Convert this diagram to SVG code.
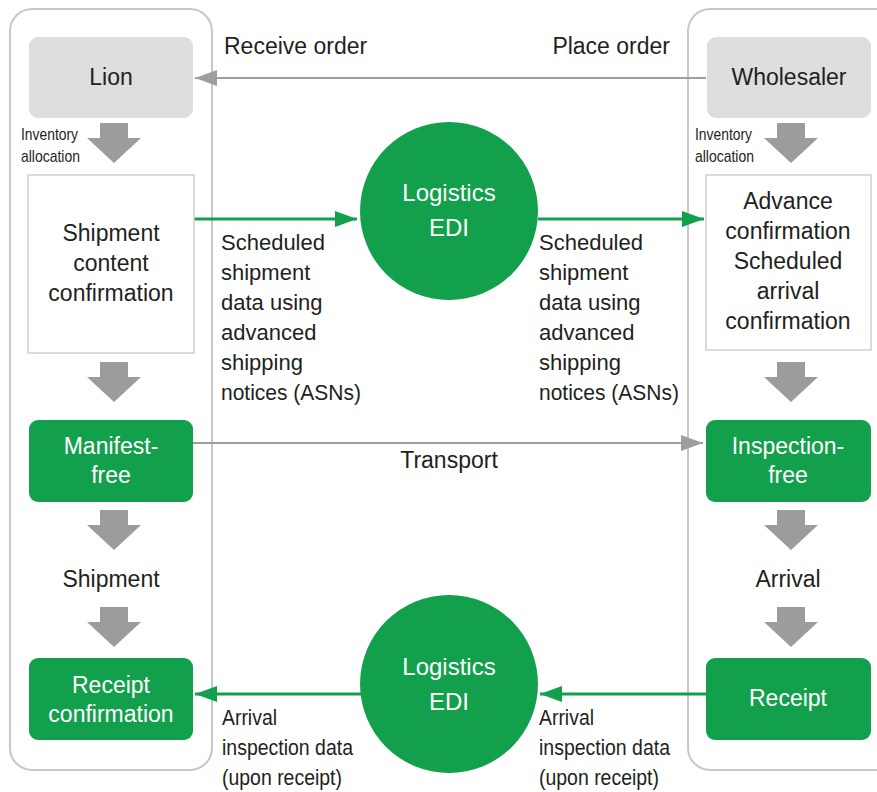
<svg xmlns="http://www.w3.org/2000/svg" width="877" height="792" viewBox="0 0 877 792">
<defs>
<style>
text{font-family:"Liberation Sans",Arial,sans-serif;fill:#231f20;font-size:22px}
.c{text-anchor:middle}
.b{font-size:23px}
.w{fill:#ffffff}
.ci{font-size:24px}
.sm{font-size:17px}
.container{fill:#ffffff;stroke:#c8c8c8;stroke-width:2}
.gbox{fill:#dedede}
.wbox{fill:#ffffff;stroke:#cfcfcf;stroke-width:1.5}
.grn{fill:#13a04c}
.blk{fill:#9c9c9c}
.gline{stroke:#9e9e9e;stroke-width:2;fill:none}
.eline{stroke:#13a04c;stroke-width:3;fill:none}
</style>
<marker id="ag" markerUnits="userSpaceOnUse" markerWidth="24" markerHeight="18" refX="22" refY="8" orient="auto">
<path d="M0,0 L22,8 L0,16 Z" fill="#9e9e9e"/>
</marker>
<marker id="ae" markerUnits="userSpaceOnUse" markerWidth="24" markerHeight="18" refX="22" refY="8" orient="auto">
<path d="M0,0 L22,8 L0,16 Z" fill="#13a04c"/>
</marker>
<path id="dn" d="M-14,0 H14 V15 H27 L0,40 L-27,15 H-14 Z"/>
</defs>
<rect width="877" height="792" fill="#ffffff"/>

<g id="containers">
<rect class="container" x="10" y="9" width="202" height="761" rx="22"/>
<rect class="container" x="688" y="9" width="210" height="761" rx="22"/>
</g>

<g id="flow-arrows">
<use href="#dn" class="blk" x="114" y="123"/>
<use href="#dn" class="blk" x="114" y="362"/>
<use href="#dn" class="blk" x="114" y="510"/>
<use href="#dn" class="blk" x="114" y="607"/>
<use href="#dn" class="blk" x="791" y="123"/>
<use href="#dn" class="blk" x="791" y="362"/>
<use href="#dn" class="blk" x="791" y="510"/>
<use href="#dn" class="blk" x="791" y="607"/>
</g>

<g id="connectors">
<line class="gline" x1="706" y1="78" x2="195" y2="78" marker-end="url(#ag)"/>
<line class="gline" x1="193" y1="443" x2="703" y2="443" marker-end="url(#ag)"/>
<line class="eline" x1="194" y1="219" x2="357" y2="219" marker-end="url(#ae)"/>
<line class="eline" x1="538" y1="219" x2="704" y2="219" marker-end="url(#ae)"/>
<line class="eline" x1="706" y1="694" x2="540" y2="694" marker-end="url(#ae)"/>
<line class="eline" x1="361" y1="694" x2="195" y2="694" marker-end="url(#ae)"/>
</g>

<g id="lion">
<rect class="gbox" x="29" y="37" width="164" height="81" rx="9"/>
<text class="c b" x="111" y="85">Lion</text>
</g>
<g id="wholesaler">
<rect class="gbox" x="707" y="37" width="164" height="81" rx="9"/>
<text class="c b" x="789" y="85">Wholesaler</text>
</g>

<g id="inv-left">
<text class="sm" x="21" y="140" textLength="57" lengthAdjust="spacingAndGlyphs">Inventory</text>
<text class="sm" x="21" y="162" textLength="59" lengthAdjust="spacingAndGlyphs">allocation</text>
</g>
<g id="inv-right">
<text class="sm" x="695" y="140" textLength="57" lengthAdjust="spacingAndGlyphs">Inventory</text>
<text class="sm" x="695" y="162" textLength="59" lengthAdjust="spacingAndGlyphs">allocation</text>
</g>

<g id="shipment-content">
<rect class="wbox" x="28" y="175" width="166" height="178"/>
<text class="c b" x="111" y="241">Shipment</text>
<text class="c b" x="111" y="271">content</text>
<text class="c b" x="111" y="301">confirmation</text>
</g>

<g id="advance-confirmation">
<rect class="wbox" x="706" y="175" width="165" height="175"/>
<text class="c b" x="788" y="209">Advance</text>
<text class="c b" x="788" y="239">confirmation</text>
<text class="c b" x="788" y="269">Scheduled</text>
<text class="c b" x="788" y="299">arrival</text>
<text class="c b" x="788" y="329">confirmation</text>
</g>

<g id="edi-top">
<circle class="grn" cx="449" cy="211" r="89"/>
<text class="c w ci" x="449" y="201">Logistics</text>
<text class="c w ci" x="449" y="236">EDI</text>
</g>
<g id="edi-bottom">
<circle class="grn" cx="449" cy="684" r="89"/>
<text class="c w ci" x="449" y="675">Logistics</text>
<text class="c w ci" x="449" y="710">EDI</text>
</g>

<g id="manifest-free">
<rect class="grn" x="29" y="420" width="164" height="82" rx="9"/>
<text class="c w b" x="111" y="454">Manifest-</text>
<text class="c w b" x="111" y="483">free</text>
</g>
<g id="inspection-free">
<rect class="grn" x="706" y="420" width="165" height="82" rx="9"/>
<text class="c w b" x="788" y="454">Inspection-</text>
<text class="c w b" x="788" y="483">free</text>
</g>

<g id="shipment">
<text class="c b" x="111" y="587">Shipment</text>
</g>
<g id="arrival">
<text class="c b" x="788" y="587">Arrival</text>
</g>

<g id="receipt-confirmation">
<rect class="grn" x="29" y="658" width="164" height="82" rx="9"/>
<text class="c w b" x="111" y="693">Receipt</text>
<text class="c w b" x="111" y="722">confirmation</text>
</g>
<g id="receipt">
<rect class="grn" x="706" y="658" width="165" height="82" rx="9"/>
<text class="c w b" x="788" y="706">Receipt</text>
</g>

<g id="labels">
<text class="b" x="224" y="54">Receive order</text>
<text class="b" x="670" y="54" text-anchor="end">Place order</text>
<text class="c b" x="449" y="468">Transport</text>
<text x="221" y="250">Scheduled</text>
<text x="221" y="280">shipment</text>
<text x="221" y="310">data using</text>
<text x="221" y="340">advanced</text>
<text x="221" y="370">shipping</text>
<text x="221" y="400" textLength="140" lengthAdjust="spacingAndGlyphs">notices (ASNs)</text>
<text x="539" y="250">Scheduled</text>
<text x="539" y="280">shipment</text>
<text x="539" y="310">data using</text>
<text x="539" y="340">advanced</text>
<text x="539" y="370">shipping</text>
<text x="539" y="400" textLength="140" lengthAdjust="spacingAndGlyphs">notices (ASNs)</text>
<text x="222" y="725" textLength="55" lengthAdjust="spacingAndGlyphs">Arrival</text>
<text x="222" y="755" textLength="131" lengthAdjust="spacingAndGlyphs">inspection data</text>
<text x="222" y="785" textLength="120" lengthAdjust="spacingAndGlyphs">(upon receipt)</text>
<text x="539" y="725" textLength="55" lengthAdjust="spacingAndGlyphs">Arrival</text>
<text x="539" y="755" textLength="131" lengthAdjust="spacingAndGlyphs">inspection data</text>
<text x="539" y="785" textLength="120" lengthAdjust="spacingAndGlyphs">(upon receipt)</text>
</g>
</svg>
